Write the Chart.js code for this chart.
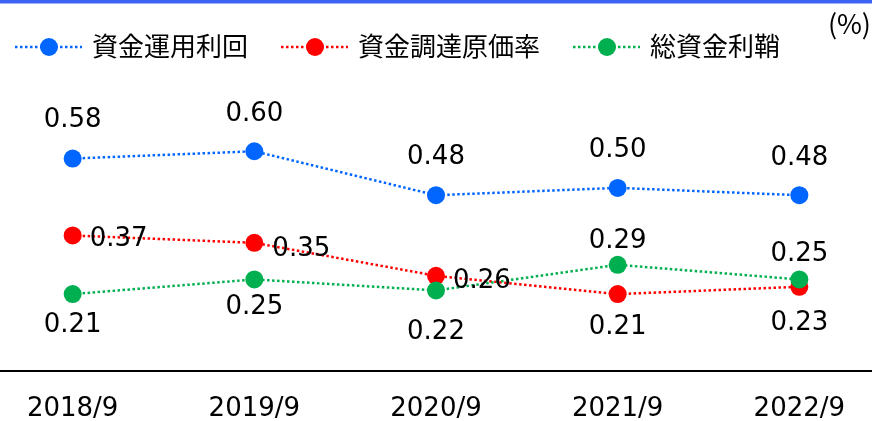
<!DOCTYPE html>
<html>
<head>
<meta charset="utf-8">
<script src="https://cdn.jsdelivr.net/npm/chart.js@4"></script>
<style>
  body { margin: 0; background: #fff; }
</style>
</head>
<body>
<canvas id="myChart" width="872" height="421"></canvas>
<script>
const categories = ['2018/9', '2019/9', '2020/9', '2021/9', '2022/9'];
const seriesNames = ['資金運用利回', '資金調達原価率', '総資金利鞘'];
const yield_ = [0.58, 0.60, 0.48, 0.50, 0.48];
const fundingCost = [0.37, 0.35, 0.26, 0.21, 0.23];
const spread = [0.21, 0.25, 0.22, 0.29, 0.25];

const colors = ['rgb(0,102,255)', 'rgb(255,0,0)', 'rgb(0,176,80)'];

// where each value label sits relative to its point [dx, dy, align]
const labelPos = [
    [[0, -40, 'center'], [0, -39, 'center'], [0, -40, 'center'], [0, -40, 'center'], [0, -39, 'center']],
    [[17, 2, 'left'], [18, 4, 'left'], [17, 3, 'left'], [0, 31, 'center'], [0, 34, 'center']],
    [[0, 29, 'center'], [0, 26, 'center'], [0, 40, 'center'], [0, -26, 'center'], [0, -27, 'center']]
];

const toPoints = arr => arr.map((v, i) => ({ x: i, y: v }));

function lineSet(i, values, order) {
    return {
        label: seriesNames[i],
        data: toPoints(values),
        borderColor: colors[i],
        backgroundColor: colors[i],
        pointBackgroundColor: colors[i],
        pointBorderWidth: 0,
        pointRadius: 9,
        pointHoverRadius: 9,
        borderWidth: 2.5,
        borderDash: [2.5, 2.5],
        tension: 0,
        order: order,
    };
}

const valueLabels = {
    id: 'valueLabels',
    afterDatasetsDraw(chart) {
        const c = chart.ctx;
        c.save();
        c.font = '26px "DejaVu Sans", Verdana, sans-serif';
        c.fillStyle = '#000';
        c.textBaseline = 'middle';
        chart.data.datasets.forEach((ds, d) => {
            const meta = chart.getDatasetMeta(d);
            meta.data.forEach((pt, i) => {
                const p = labelPos[d][i];
                c.textAlign = p[2];
                // +2: 'middle' sits a bit above the digits' centre
                c.fillText(ds.data[i].y.toFixed(2), pt.x + p[0], pt.y + p[1] + 2);
            });
        });
        c.restore();
    }
};

const topDecor = {
    id: 'topDecor',
    afterDraw(chart) {
        const c = chart.ctx;
        c.save();
        // blue band on top
        c.fillStyle = 'rgb(59,100,245)';
        c.fillRect(0, 0, chart.width, 3.5);

        // legend: dotted line with a dot, then the name
        c.font = '26px "Noto Sans CJK JP", sans-serif';
        c.textBaseline = 'middle';
        c.textAlign = 'left';
        let x = 15;
        const y = 46;
        seriesNames.forEach((name, i) => {
            c.strokeStyle = colors[i];
            c.lineWidth = 2.5;
            c.setLineDash([2.5, 2.5]);
            c.beginPath();
            c.moveTo(x, y + 1);
            c.lineTo(x + 67, y + 1);
            c.stroke();
            c.setLineDash([]);
            c.fillStyle = colors[i];
            c.beginPath();
            c.arc(x + 34, y + 1, 9, 0, Math.PI * 2);
            c.fill();
            c.fillStyle = '#000';
            c.fillText(name, x + 77, y);
            x += 77 + c.measureText(name).width + 33;
        });

        c.font = '27px "Noto Sans CJK JP", sans-serif';
        c.textAlign = 'right';
        c.fillText('(%)', 871, 24);
        c.restore();
    }
};

new Chart(document.getElementById('myChart'), {
    type: 'line',
    data: {
        datasets: [
            lineSet(0, yield_, 2),
            lineSet(1, fundingCost, 1),
            lineSet(2, spread, 0),
        ]
    },
    options: {
        responsive: false,
        animation: false,
        layout: {
            autoPadding: false,
            padding: { top: 78, left: 0, right: 0, bottom: 0 }
        },
        scales: {
            x: {
                type: 'linear',
                min: -0.4,
                max: 4.4,
                afterBuildTicks: scale => {
                    scale.ticks = categories.map((c, i) => ({ value: i }));
                },
                afterFit: scale => {
                    scale.paddingLeft = 0;
                    scale.paddingRight = 0;
                    scale.height = 50;
                },
                grid: { display: false },
                border: { display: true, color: '#000', width: 2 },
                ticks: {
                    autoSkip: false,
                    maxRotation: 0,
                    padding: 15,
                    color: '#000',
                    font: { family: '"DejaVu Sans", Verdana, sans-serif', size: 26 },
                    callback: v => categories[v]
                }
            },
            y: {
                min: 0,
                max: 0.8,
                display: false,
            }
        },
        plugins: {
            legend: { display: false },
            tooltip: { enabled: false },
        }
    },
    plugins: [valueLabels, topDecor]
});
</script>
</body>
</html>
